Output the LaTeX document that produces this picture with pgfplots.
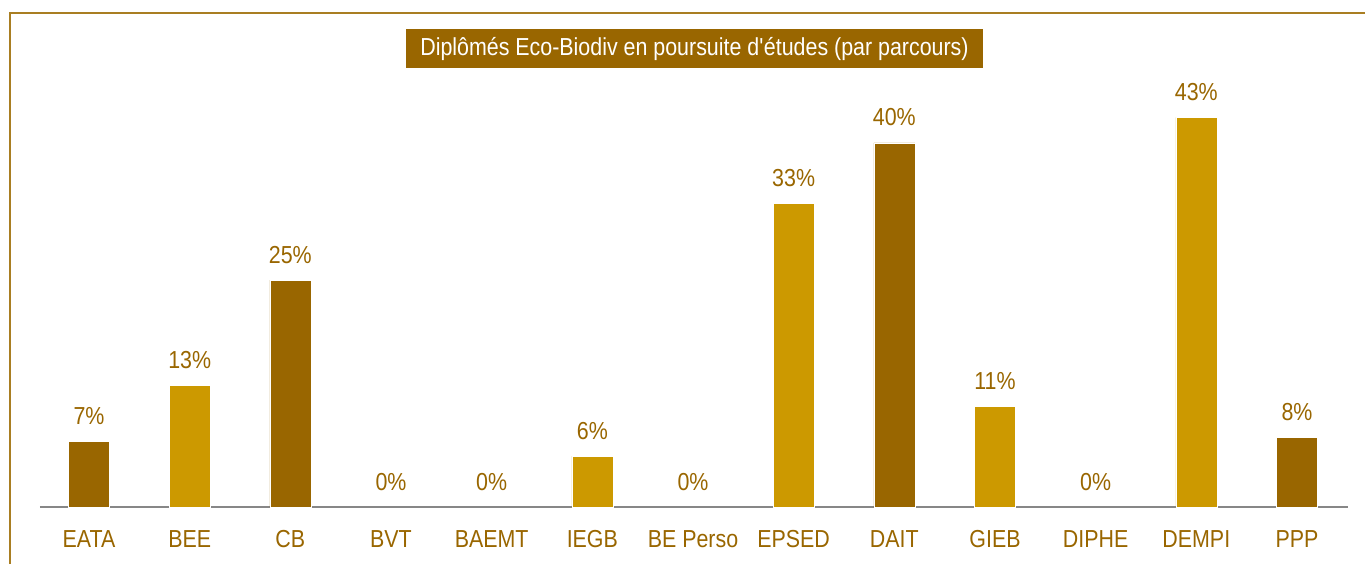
\documentclass[border=0pt]{standalone}
\usepackage{fontspec}
\setmainfont[FakeStretch=0.87]{Liberation Sans}
\usepackage{pgfplots}
\pgfplotsset{compat=1.18}
\definecolor{darkbar}{HTML}{996600}
\definecolor{goldbar}{HTML}{CC9900}
\definecolor{txtbrown}{HTML}{996600}
\definecolor{framec}{HTML}{A97E22}
\definecolor{axgray}{HTML}{878787}

\begin{document}
\begin{tikzpicture}[x=1pt,y=1pt]
\path[use as bounding box] (0,0) rectangle (682.5,282);
\draw[framec, line width=1pt] (5,0) -- (5,275.5) -- (682.5,275.5);
\begin{axis}[
  at={(20pt,28.5pt)}, anchor=south west,
  scale only axis, width=654pt, height=227pt,
  xmin=-0.487, xmax=12.507, ymin=0, ymax=50,
  axis x line*=bottom, axis y line=none,
  x axis line style={axgray, line width=0.8pt, -},
  xtick={0,...,12},
  xticklabels={EATA, BEE, CB, BVT, BAEMT, IEGB, BE Perso, EPSED, DAIT, GIEB, DIPHE, DEMPI, PPP},
  major tick length=0pt,
  xticklabel style={font=\fontsize{12.3}{14}\selectfont, text=txtbrown, anchor=north, inner sep=0pt, yshift=-11.5pt},
  ybar, bar width=20.5pt, bar shift=0pt,
  /pgf/number format/assume math mode=true,
  nodes near coords={\pgfmathprintnumber[fixed,precision=0]{\pgfplotspointmeta}\%},
  every node near coord/.append style={font=\fontsize{12.3}{14}\selectfont, text=txtbrown, anchor=base, inner sep=0pt, yshift=8.5pt},
  clip=false,
]
\addplot[fill=darkbar, draw=white, line width=0.3pt] coordinates
  {(0,7.2) (2,25.0) (8,40.1) (12,7.7)};
\addplot[fill=goldbar, draw=white, line width=0.3pt] coordinates
  {(1,13.4) (5,5.6) (7,33.4) (9,11.1) (11,42.9)};
% zero-valued categories: label only
\addplot[fill=none, draw=none] coordinates
  {(3,0) (4,0) (6,0) (10,0)};
\end{axis}
\node[fill=darkbar, text=white, inner sep=0pt, minimum width=288.5pt, minimum height=19.25pt,
      font=\fontsize{12.3}{14}\selectfont] at (347.25,257.75) {Diplômés Eco-Biodiv en poursuite d\textquotesingle études (par parcours)};
\end{tikzpicture}
\end{document}
